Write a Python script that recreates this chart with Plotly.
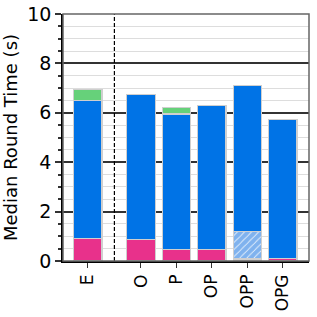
import plotly.graph_objects as go

categories = ["E", "O", "P", "OP", "OPP", "OPG"]
positions = [0, 1.5, 2.5, 3.5, 4.5, 5.5]
pink_vals = [0.9, 0.87, 0.45, 0.45, 0.08, 0.1]
hatch_vals = [0, 0, 0, 0, 1.12, 0]
blue_vals = [5.6, 5.86, 5.5, 5.86, 5.89, 5.63]
green_vals = [0.45, 0, 0.27, 0, 0, 0]
separator_x = (positions[0] + positions[1]) / 2

edge = dict(color="#cfcfcf", width=1.2)
font = "DejaVu Sans"

fig = go.Figure()
fig.add_trace(go.Bar(x=positions, y=pink_vals, width=0.8,
                     marker=dict(color="#e8318b", line=edge)))
fig.add_trace(go.Bar(x=positions, y=hatch_vals, width=0.8,
                     marker=dict(color="white", line=edge,
                                 pattern=dict(shape="/", fgcolor="#0066dd", bgcolor="white",
                                              size=5, solidity=0.85))))
fig.add_trace(go.Bar(x=positions, y=blue_vals, width=0.8,
                     marker=dict(color="#0073e6", line=edge)))
fig.add_trace(go.Bar(x=positions, y=green_vals, width=0.8,
                     marker=dict(color="#66d17a", line=edge)))

fig.add_shape(type="line", x0=separator_x, x1=separator_x, y0=0, y1=1,
              xref="x", yref="y domain", line=dict(color="black", width=1.2, dash="4px,2px"))
fig.add_shape(type="rect", x0=0, x1=1, y0=0, y1=1, xref="x domain", yref="y domain",
              line=dict(color="#666666", width=1.5), layer="above")

fig.update_layout(
    width=317, height=317, barmode="stack", showlegend=False,
    margin=dict(l=63, r=8, t=14, b=56, autoexpand=False),
    paper_bgcolor="white", plot_bgcolor="white",
    font=dict(family=font, size=18, color="black"),
    xaxis=dict(range=[-0.7, 6.24], tickvals=positions, ticktext=categories,
               tickangle=-90, ticks="outside", ticklen=5, tickcolor="#333",
               showgrid=False, showline=True, linecolor="black", linewidth=1.5,
               zeroline=False, tickfont=dict(size=17)),
    yaxis=dict(range=[0, 10], dtick=2, ticks="outside", ticklen=6, tickwidth=1.5,
               tickcolor="#333", showgrid=True, gridcolor="#333333", gridwidth=2,
               showline=True, linecolor="black", linewidth=1.5, zeroline=False,
               minor=dict(dtick=0.5, showgrid=True, gridcolor="#dddddd", gridwidth=1,
                          ticks="outside", ticklen=3, tickcolor="#333"),
               title=dict(text="Median Round Time (s)", font=dict(size=18), standoff=6),
               tickfont=dict(size=19)),
)
fig.write_html("out.html", config={"displayModeBar": False},
               post_script="document.body.style.margin='0';")
